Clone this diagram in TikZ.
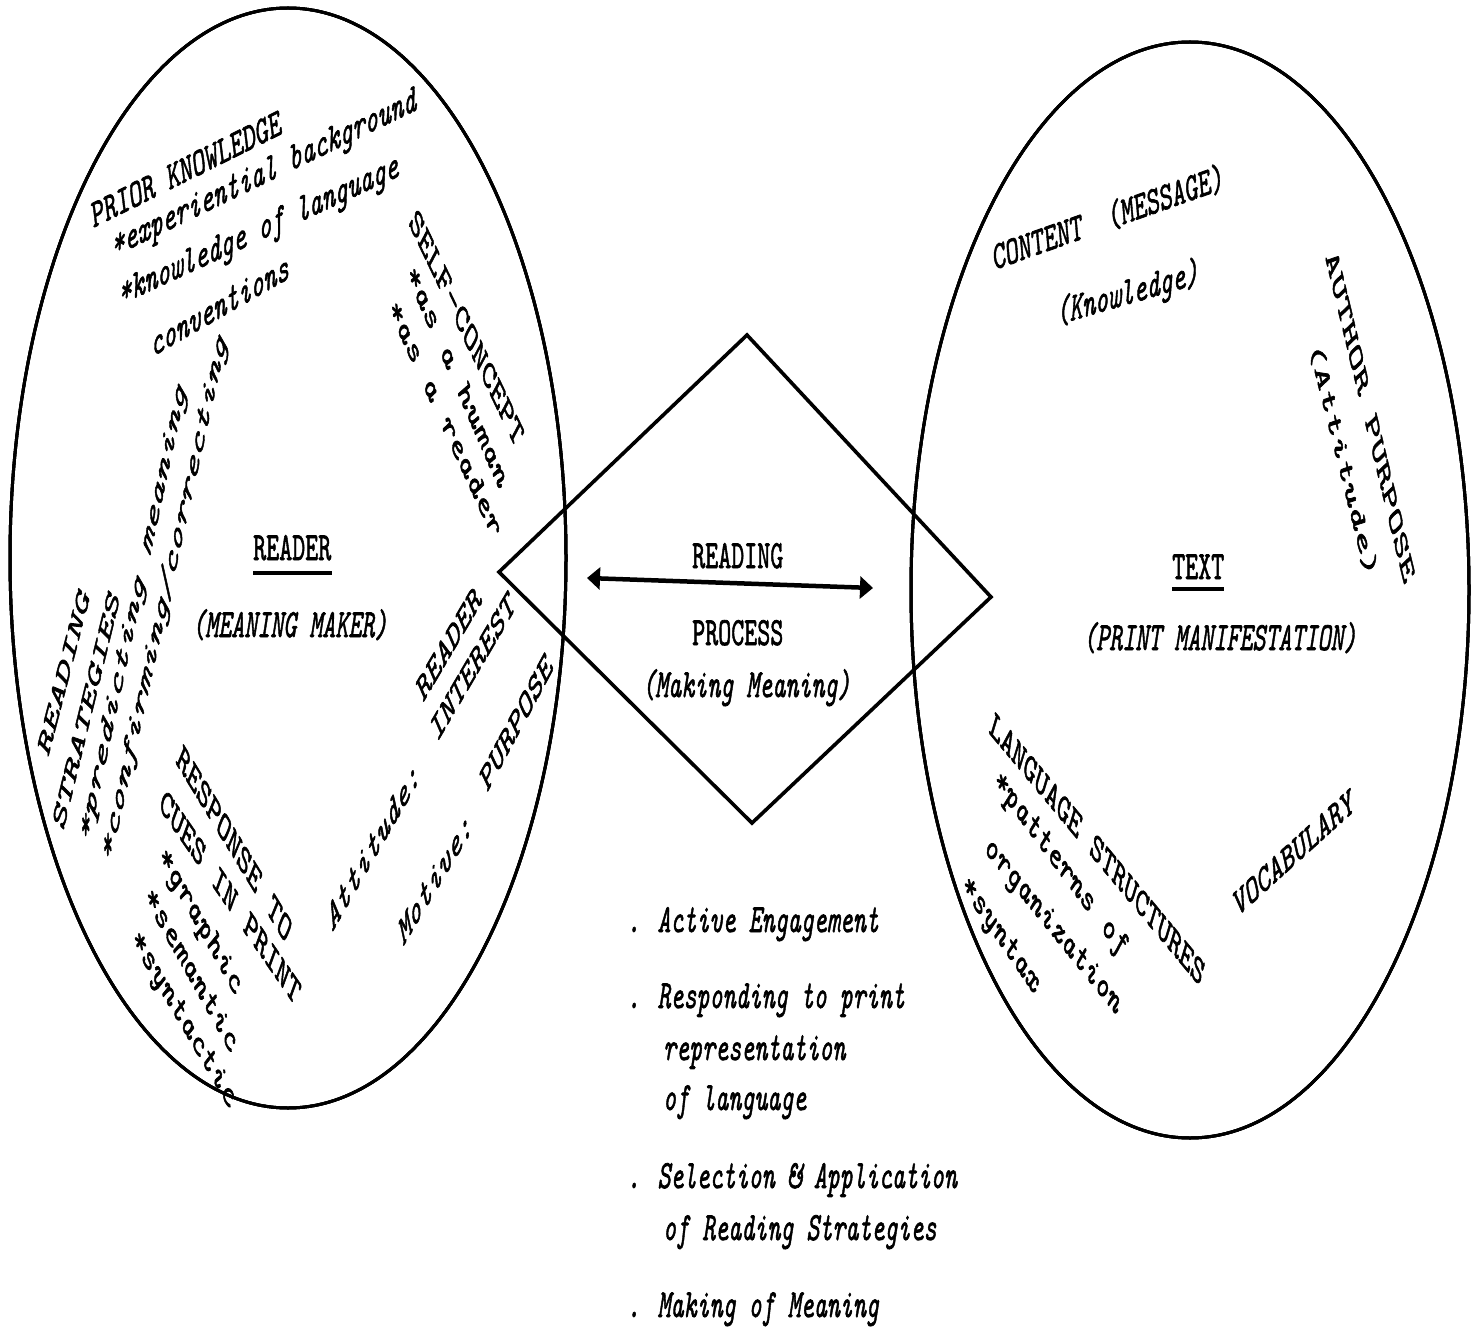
\documentclass[tikz,border=0pt]{standalone}
\usepackage{fontspec}
\usetikzlibrary{arrows.meta,shapes.geometric}
\newfontfamily\tw{lmmono10-regular.otf}[FakeStretch=1.24,FakeBold=2,ItalicFont=lmmono10-italic.otf]
\tikzset{
  lbl/.style={font={\tw\fontsize{20}{24}\selectfont}, inner sep=0pt, anchor=base west, yscale=2, transform shape},
  ilbl/.style={lbl, font={\tw\itshape\fontsize{20}{24}\selectfont}},
  ring/.style={ellipse, draw, line width=3pt, inner sep=0pt},
  ringline/.style={line width=3pt},
  edge/.style={line width=3.6pt, line join=miter},
  uline/.style={line width=4.5pt},
  dbl/.style={line width=4.5pt, {Triangle[length=13pt,width=22pt]}-{Triangle[length=13pt,width=22pt]}},
}
\begin{document}
\begin{tikzpicture}[x=1pt,y=-1pt]
\path[fill=white, use as bounding box] (0,0) rectangle (1476,1332);
% circles (stretched by the scan)
\node[ring, minimum width=556pt, minimum height=1100pt] (readerring) at (288,558) {};
\draw[ringline, yshift=1.4pt] (readerring.center) ellipse [x radius=278pt, y radius=550pt];
\draw[ringline, yshift=-1.4pt] (readerring.center) ellipse [x radius=278pt, y radius=550pt];
\node[ring, minimum width=558pt, minimum height=1096pt] (textring) at (1190,590) {};
\draw[ringline, yshift=1.4pt] (textring.center) ellipse [x radius=279pt, y radius=548pt];
\draw[ringline, yshift=-1.4pt] (textring.center) ellipse [x radius=279pt, y radius=548pt];
% diamond
\coordinate (dT) at (747,335);
\coordinate (dR) at (991,597);
\coordinate (dB) at (752,823);
\coordinate (dL) at (499,572);
\draw[edge] (dT) -- (dR) -- (dB) -- (dL) -- cycle;
% double arrow
\coordinate (aL) at (587,578);
\coordinate (aR) at (873,588);
\draw[dbl] (aL) -- (aR);
% centre texts
\node[lbl] (reading) at (692,568) {READING};
\node[lbl] (process) at (692,645) {PROCESS};
\node[ilbl] (making) at (642,697) {(Making Meaning)};
\node[lbl] (readerlbl) at (253,560) {READER};
\draw[uline] ([yshift=-13pt]readerlbl.base west) -- ([yshift=-13pt]readerlbl.base east);
\node[ilbl] (maker) at (192,637) {(MEANING MAKER)};
\node[lbl] (textlbl) at (1172,579) {TEXT};
\draw[uline] ([yshift=-10pt]textlbl.base west) -- ([yshift=-10pt]textlbl.base east);
\node[ilbl] (printm) at (1083,650) {(PRINT MANIFESTATION)};
% reader circle
\node[lbl, rotate=14] (prior) at (93,228) {PRIOR KNOWLEDGE};
\node[ilbl, rotate=13.6] (exper) at (113,257) {*experiential background};
\node[ilbl, rotate=13] (knowl) at (120,305) {*knowledge of language};
\node[ilbl, rotate=16] (conv) at (152,357) {conventions};
\node[lbl, rotate=-46.3] (selfc) at (408,223) {SELF-CONCEPT};
\node[ilbl, rotate=-49] (human) at (405,273) {*as a human};
\node[ilbl, rotate=-47.5] (areader) at (387,308) {*as a reader};
\node[lbl, rotate=62.4] (rs1) at (48,758) {READING};
\node[lbl, rotate=64] (rs2) at (63,832) {STRATEGIES};
\node[ilbl, rotate=66.7] (pred) at (88,845) {*predicting meaning};
\node[ilbl, rotate=66] (conf) at (110,865) {*confirming/correcting};
\node[lbl, rotate=-39.4] (resp1) at (175,762) {RESPONSE TO};
\node[lbl, rotate=-36] (resp2) at (158,807) {CUES IN PRINT};
\node[ilbl, rotate=-41.6] (graph) at (157,857) {*graphic};
\node[ilbl, rotate=-41.8] (seman) at (143,897) {*semantic};
\node[ilbl, rotate=-40.4] (syntc) at (130,940) {*syntactic};
\node[ilbl, rotate=41] (attit) at (332,933) {Attitude:};
\node[ilbl, rotate=40] (motiv) at (403,947) {Motive:};
\node[lbl, rotate=43] (purp) at (487,793) {PURPOSE};
\node[lbl, rotate=40.4] (ri1) at (423,703) {READER};
\node[lbl, rotate=40.5] (ri2) at (437,743) {INTEREST};
% text circle
\node[lbl, rotate=10] (content) at (994,270) {CONTENT~~(MESSAGE)};
\node[ilbl, rotate=8.3] (knowg) at (1057,325) {(Knowledge)};
\node[lbl, rotate=-64.2] (author) at (1325,257) {AUTHOR PURPOSE};
\node[ilbl, rotate=-63.5] (attd) at (1308,345) {(Attitude)};
\node[lbl, rotate=-31] (langs) at (988,732) {LANGUAGE STRUCTURES};
\node[ilbl, rotate=-34] (patt) at (992,783) {*patterns of};
\node[ilbl, rotate=-31.8] (organ) at (983,850) {organization};
\node[ilbl, rotate=-36] (syntx) at (960,887) {*syntax};
\node[lbl, rotate=24.3] (vocab) at (1237,917) {VOCABULARY};
% list below
\node[ilbl] (l1) at (627,932) {. Active Engagement};
\node[ilbl] (l2) at (627,1008) {. Responding to print};
\node[ilbl] (l2b) at (663,1060) {representation};
\node[ilbl] (l2c) at (663,1110) {of language};
\node[ilbl] (l3) at (627,1188) {. Selection \& Application};
\node[ilbl] (l3b) at (663,1240) {of Reading Strategies};
\node[ilbl] (l4) at (627,1317) {. Making of Meaning};
\end{tikzpicture}
\end{document}
